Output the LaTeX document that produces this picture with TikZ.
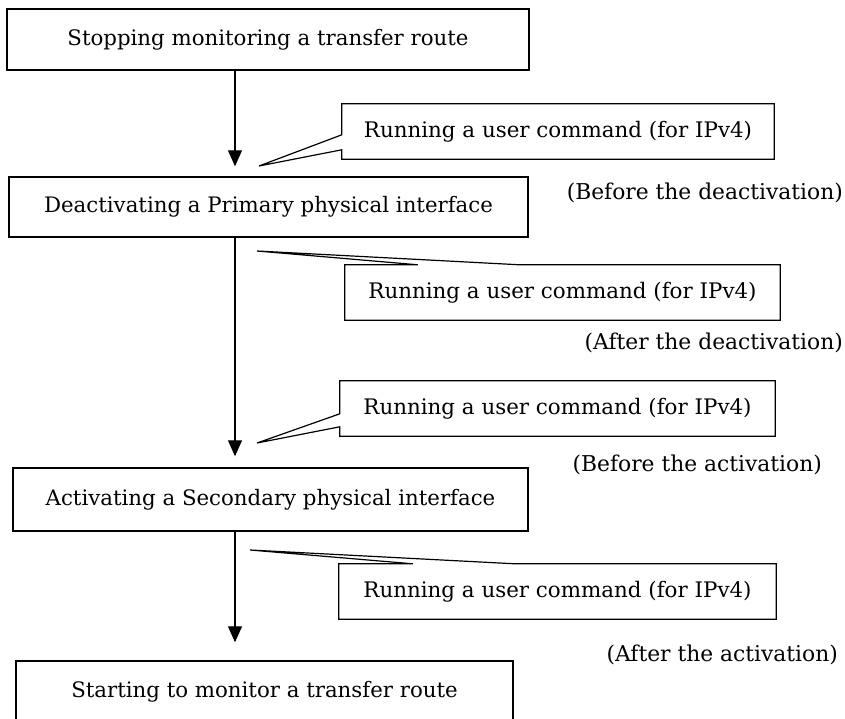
\documentclass[tikz,border=0pt]{standalone}
\usepackage{fontspec}
\setmainfont{DejaVu Serif}
\usetikzlibrary{arrows.meta,calc}
\tikzset{
  stepbox/.style={draw, line width=1.4pt, inner sep=0pt, align=center, font=\fontsize{21.3}{24}\selectfont},
  calltext/.style={inner sep=0pt, font=\fontsize{21.4}{24}\selectfont},
  callline/.style={draw, line width=1.2pt, line join=miter},
  note/.style={inner sep=0pt, anchor=east, font=\fontsize{21.8}{24}\selectfont},
  arr/.style={line width=1.1pt, -{Triangle[width=14pt,length=16pt]}}
}
\begin{document}
\begin{tikzpicture}[x=1pt,y=-1pt]
\fill[white] (0,0) rectangle (845,719);
\clip (0,0) rectangle (845,719);
\useasboundingbox (0,0) rectangle (845,719);

% main steps
\node[stepbox, minimum width=522pt, minimum height=61pt] (b1) at (268,39.5) {Stopping monitoring a transfer route};
\node[stepbox, minimum width=519pt, minimum height=60pt] (b2) at (268.5,207) {Deactivating a Primary physical interface};
\node[stepbox, minimum width=515pt, minimum height=63pt] (b3) at (270.5,499.5) {Activating a Secondary physical interface};
\node[stepbox, minimum width=497pt, minimum height=62pt] (b4) at (264.5,692) {Starting to monitor a transfer route};

% arrows
\coordinate (ax) at (235,0);
\draw[arr, shorten >=10pt] (b1.south -| ax) -- (b2.north -| ax);
\draw[arr, shorten >=11pt] (b2.south -| ax) -- (b3.north -| ax);
\draw[arr, shorten >=18pt] (b3.south -| ax) -- (b4.north -| ax);

% callout 1 (before the deactivation)
\node[calltext, minimum width=432pt, minimum height=55pt] (c1) at (558,131.5) {Running a user command (for IPv4)};
\coordinate (p1) at (259,166);
\path[callline] ($(c1.north west)+(0,31)$) -- (c1.north west) -- (c1.north east) -- (c1.south east) -- (c1.south west) -- ($(c1.north west)+(0,46)$) -- (p1) -- cycle;

% callout 2 (after the deactivation)
\node[calltext, minimum width=435pt, minimum height=55pt] (c2) at (562.5,292.5) {Running a user command (for IPv4)};
\coordinate (p2) at (257,251);
\path[callline] ($(c2.north west)+(73,0)$) -- (c2.north west) -- (c2.south west) -- (c2.south east) -- (c2.north east) -- ($(c2.north west)+(175,0)$) -- (p2) -- cycle;

% callout 3 (before the activation)
\node[calltext, minimum width=435pt, minimum height=55pt] (c3) at (557.5,408.5) {Running a user command (for IPv4)};
\coordinate (p3) at (257,443);
\path[callline] ($(c3.north west)+(0,33)$) -- (c3.north west) -- (c3.north east) -- (c3.south east) -- (c3.south west) -- ($(c3.north west)+(0,46)$) -- (p3) -- cycle;

% callout 4 (after the activation)
\node[calltext, minimum width=437pt, minimum height=55pt] (c4) at (557.5,591.5) {Running a user command (for IPv4)};
\coordinate (p4) at (250,550);
\path[callline] ($(c4.north west)+(74,0)$) -- (c4.north west) -- (c4.south west) -- (c4.south east) -- (c4.north east) -- ($(c4.north west)+(176,0)$) -- (p4) -- cycle;

% timing notes
\node[note] (n1) at (843,193) {(Before the deactivation)};
\node[note] (n2) at (843,343) {(After the deactivation)};
\node[note] (n3) at (822,465) {(Before the activation)};
\node[note] (n4) at (838,655) {(After the activation)};
\end{tikzpicture}
\end{document}
